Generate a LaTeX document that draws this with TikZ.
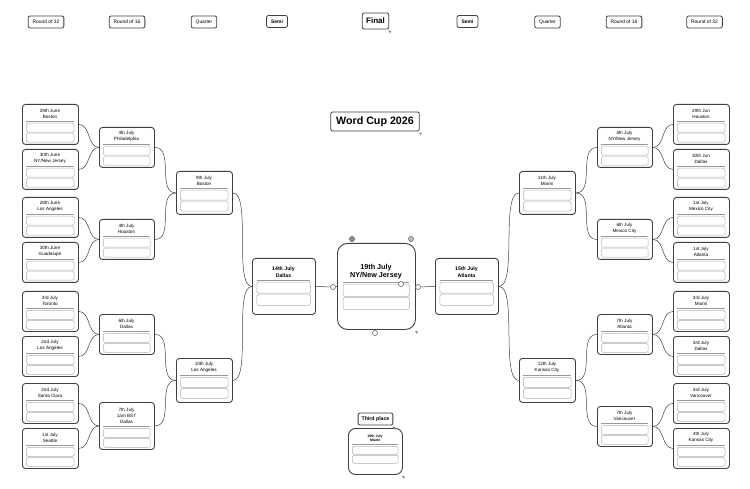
\documentclass[tikz,border=0pt]{standalone}
\usepackage{fontspec}
\setmainfont{Liberation Sans}

\newcommand{\partido}[9][]{%
  \begin{scope}[#1]
    \node[partido, minimum width=#5pt, minimum height=#6pt, anchor=north west] (#2) at (#3,#4) {};
    \node[titulo, anchor=south] (#2-t) at ({#3+#5/2},{#4+#7-2.5}) {#9};
    \draw[separa] ({#3+0.075*#5},{#4+#7}) -- ({#3+0.925*#5},{#4+#7});
    \node[casilla, minimum width={0.85*#5pt}, minimum height=#8pt, anchor=north west] (#2-a) at ({#3+0.075*#5},{#4+#7+2}) {};
    \node[casilla, minimum width={0.85*#5pt}, minimum height=#8pt, anchor=north west] (#2-b) at ({#3+0.075*#5},{#4+#7+#8+3}) {};
  \end{scope}}

\begin{document}
\begin{tikzpicture}[
  x=1pt, y=-1pt,
  partido/.style={draw=black!75, line width=0.9pt, rounded corners=3pt, fill=white, inner sep=0pt},
  titulo/.style={font=\fontsize{4.6}{6}\selectfont, align=center, inner sep=0pt},
  separa/.style={draw=black!40, line width=0.9pt},
  casilla/.style={draw=black!30, line width=0.5pt, rounded corners=1.5pt, inner sep=0pt},
  enlace/.style={draw=black!75, line width=0.5pt},
  ronda/.style={draw=black!75, line width=0.8pt, rounded corners=2pt, font=\fontsize{4.9}{5}\selectfont, inner xsep=4.5pt, minimum height=12pt, inner ysep=0pt},
  marca/.style={draw=black!65, fill=black!25, circle, line width=0.5pt, minimum size=5pt, inner sep=0pt},
  semis/.style={titulo/.style={font=\fontsize{5.2}{6.4}\selectfont\bfseries, align=center, inner sep=0pt}},
  granfinal/.style={partido/.append style={rounded corners=10pt},
    titulo/.style={font=\fontsize{7.2}{8.2}\selectfont\bfseries, align=center, inner sep=0pt}},
  tercero/.style={partido/.append style={rounded corners=7pt},
    titulo/.style={font=\fontsize{3.5}{4.2}\selectfont\bfseries, align=center, inner sep=0pt}}
]
\path[fill=white, use as bounding box] (0,0) rectangle (750,489);

\node[ronda] (h1) at (46,22) {Round of 32};
\node[ronda] (h2) at (127,22) {Round of 16};
\node[ronda] (h3) at (204,22) {Quarter};
\node[ronda, font=\fontsize{5}{5}\selectfont\bfseries] (h4) at (277,21.5) {Semi};
\node[ronda, font=\fontsize{8}{8}\selectfont\bfseries, minimum height=16pt, inner xsep=4pt] (h5) at (375.5,21) {Final};
\node[ronda, font=\fontsize{5}{5}\selectfont\bfseries] (h6) at (467.5,21.5) {Semi};
\node[ronda] (h7) at (547.5,22) {Quarter};
\node[ronda] (h8) at (624,22) {Round of 16};
\node[ronda] (h9) at (704.5,22) {Round of 32};

\node[ronda, font=\fontsize{10.7}{11}\selectfont\bfseries, minimum height=19pt, inner xsep=5.5pt] (copa) at (375,121.5) {Word Cup 2026};

\partido{a1}{22}{104}{56}{40}{17}{9}{29th June\\Boston}
\partido{a2}{22}{149}{56}{40}{17}{9}{30th June\\NY/New Jersey}
\partido{a3}{22}{197}{56}{40}{17}{9}{28th June\\Los Angeles}
\partido{a4}{22}{242}{56}{40}{17}{9}{30th June\\Guadalupe}
\partido{a5}{22}{291}{56}{40}{17}{9}{3rd July\\Toronto}
\partido{a6}{22}{336}{56}{40}{17}{9}{2nd July\\Los Angeles}
\partido{a7}{22}{383}{56}{40}{17}{9}{2nd July\\Santa Clara}
\partido{a8}{22}{428}{56}{40}{17}{9}{1st July\\Seattle}

\partido{b1}{99}{127}{55}{40}{17}{9}{4th July\\Philadelphia}
\partido{b2}{99}{219}{55}{40}{17}{9}{4th July\\Houston}
\partido{b3}{99}{314}{55}{40}{17}{9}{6th July\\Dallas}
\partido{b4}{99}{402}{55}{47}{24}{9}{7th July\\1am BST\\Dallas}

\partido{c1}{176}{171}{56}{43}{17}{10}{9th July\\Boston}
\partido{c2}{176}{358}{56}{44}{17}{10}{10th July\\Los Angeles}

\partido[semis]{sfL}{252}{258}{63}{56}{22}{11}{14th July\\Dallas}
\partido[granfinal]{fin}{337}{243}{78}{86}{39}{12}{19th July\\NY/New Jersey}
\partido[semis]{sfR}{435}{258}{63}{56}{22}{11}{15th July\\Atlanta}

\partido{d1}{519}{171}{56}{43}{17}{10}{11th July\\Miami}
\partido{d2}{519}{358}{56}{44}{17}{10}{12th July\\Kansas City}

\partido{e1}{597}{127}{55}{40}{17}{9}{5th July\\NY/New Jersey}
\partido{e2}{597}{219}{55}{40}{17}{9}{6th July\\Mexico City}
\partido{e3}{597}{314}{55}{40}{17}{9}{7th July\\Atlanta}
\partido{e4}{597}{406}{55}{40}{17}{9}{7th July\\Vancouver}

\partido{f1}{673}{104}{56}{40}{17}{9}{29th Jun\\Houston}
\partido{f2}{673}{149}{56}{40}{17}{9}{30th Jun\\Dallas}
\partido{f3}{673}{197}{56}{40}{17}{9}{1st July\\Mexico City}
\partido{f4}{673}{242}{56}{40}{17}{9}{1st July\\Atlanta}
\partido{f5}{673}{291}{56}{40}{17}{9}{3rd July\\Miami}
\partido{f6}{673}{336}{56}{40}{17}{9}{3rd July\\Dallas}
\partido{f7}{673}{383}{56}{40}{17}{9}{3rd July\\Vancouver}
\partido{f8}{673}{428}{56}{40}{17}{9}{4th July\\Kansas City}

\node[ronda, font=\fontsize{5.2}{5.2}\selectfont\bfseries, inner xsep=3.5pt] (t3) at (375.5,419) {Third place};
\partido[tercero]{ter}{348}{428}{54}{46}{16}{8}{19th July\\Miami}

\foreach \hijo/\padre in {a1/b1, a2/b1, a3/b2, a4/b2, a5/b3, a6/b3, a7/b4, a8/b4,
    b1/c1, b2/c1, b3/c2, b4/c2}
  \draw[enlace] (\hijo.east) to[out=0, in=180] (\padre.west);
\foreach \padre/\hijo in {d1/e1, d1/e2, d2/e3, d2/e4, e1/f1, e1/f2, e2/f3, e2/f4,
    e3/f5, e3/f6, e4/f7, e4/f8}
  \draw[enlace] (\padre.east) to[out=0, in=180] (\hijo.west);
\draw[enlace] (c1.east) to[out=0, in=180, looseness=0.5] (sfL.west);
\draw[enlace] (c2.east) to[out=0, in=180, looseness=0.5] (sfL.west);
\draw[enlace] (sfR.east) to[out=0, in=180, looseness=0.5] (d1.west);
\draw[enlace] (sfR.east) to[out=0, in=180, looseness=0.5] (d2.west);

\node[marca, fill=white] (pL) at (333,287) {};
\node[marca, fill=white] (pR) at (418,287) {};
\draw[enlace] (sfL.east) -- (pL) -- (fin.west);
\draw[enlace] (fin.east) -- (pR) -- (sfR.west);

\node[marca, fill=black!45] (m1) at (352,239) {};
\node[marca] (m2) at (411,239) {};
\node[marca, fill=white] (m3) at (401,284) {};
\node[marca, fill=white] (m4) at (375,333) {};

\foreach \n in {h5, copa, t3, ter, fin}
  \fill[black!45] (\n.south east) ++(-1,1) -- ++(3,0.5) -- ++(-1,2.5) -- cycle;
\end{tikzpicture}
\end{document}
